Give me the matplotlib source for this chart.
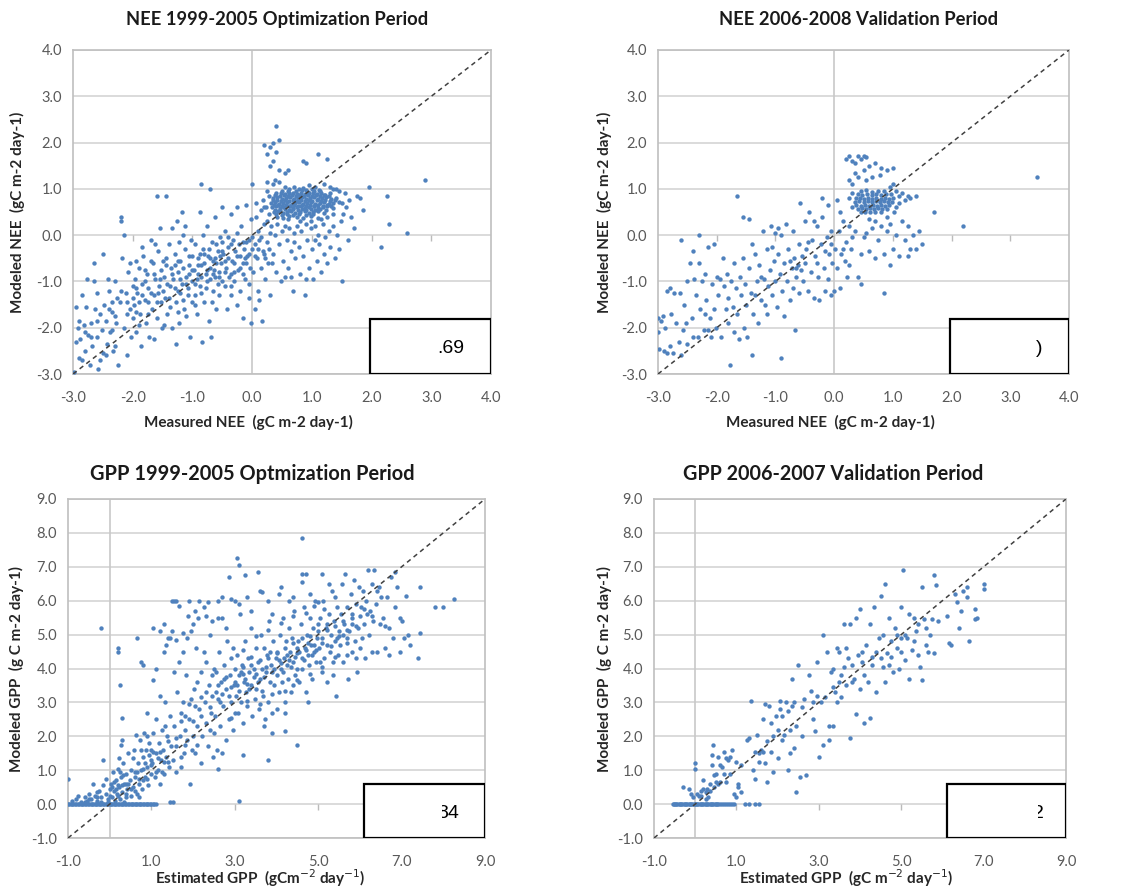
import numpy as np
import matplotlib
matplotlib.use('Agg')
import matplotlib.pyplot as plt
from matplotlib.patches import Rectangle
from matplotlib.lines import TICKDOWN

plt.rcParams['font.family'] = ['Lato', 'DejaVu Sans']

# NEE 1999-2005 (measured, modeled)
nee_opt_pts = [
    # x -3 .. -2.5
    (-2.98,-2.95),(-2.95,-2.3),(-2.92,-2.0),(-2.9,-1.85),(-2.88,-2.25),(-2.85,-2.7),(-2.82,-1.95),(-2.8,-2.5),
    (-2.78,-1.55),(-2.75,-2.15),(-2.72,-2.8),(-2.7,-1.9),(-2.68,-2.4),(-2.65,-0.6),(-2.63,-1.6),(-2.6,-2.2),
    (-2.58,-2.9),(-2.55,-1.7),(-2.52,-2.05),(-2.5,-0.4),(-2.5,-2.55),(-2.85,-1.3),(-2.95,-1.55),(-2.77,-0.95),
    (-2.6,-1.25),(-2.55,-2.7),(-2.9,-2.65),(-2.7,-2.2),(-2.65,-1.0),(-2.6,-1.85),(-2.8,-2.1),
    # x -2.5 .. -2
    (-2.48,-1.5),(-2.45,-1.85),(-2.43,-2.35),(-2.4,-1.2),(-2.38,-2.1),(-2.35,-1.65),(-2.33,-2.5),(-2.3,-1.0),
    (-2.28,-1.9),(-2.25,-2.8),(-2.22,-1.45),(-2.2,0.4),(-2.2,0.3),(-2.18,-0.5),(-2.15,-2.0),(-2.15,0.0),
    (-2.12,-1.25),(-2.1,-2.6),(-2.08,-0.8),(-2.05,-1.6),(-2.03,-2.2),(-2.0,-1.1),(-2.0,-1.8),(-2.42,-0.95),
    (-2.35,-2.05),(-2.27,-1.35),(-2.1,-1.7),(-2.3,-2.4),(-2.45,-2.6),(-2.05,-0.6),(-2.4,-1.6),(-2.3,-1.75),
    (-2.2,-1.2),(-2.1,-1.45),(-2.0,-1.35),(-2.35,-1.45),
    # x -2 .. -1.5
    (-1.98,-1.5),(-1.96,-0.95),(-1.94,-2.1),(-1.92,-1.25),(-1.9,-0.7),(-1.88,-1.7),(-1.86,-2.4),(-1.84,-1.05),
    (-1.82,-0.45),(-1.8,-1.4),(-1.78,-1.9),(-1.76,-0.85),(-1.74,-1.15),(-1.72,-2.2),(-1.7,-0.1),(-1.68,-1.6),
    (-1.66,-0.6),(-1.64,-1.3),(-1.62,-0.95),(-1.6,0.85),(-1.6,-1.8),(-1.58,-0.35),(-1.56,-1.1),(-1.55,0.15),
    (-1.53,-1.45),(-1.52,-0.75),(-1.51,-2.0),(-1.95,-1.65),(-1.85,-0.25),(-1.75,-1.45),(-1.65,-2.25),
    (-1.7,-0.55),(-1.8,-1.0),(-1.9,-1.95),(-1.57,-1.25),(-1.62,-0.2),(-1.95,-1.15),(-1.9,-1.45),(-1.85,-1.3),
    (-1.8,-0.75),(-1.75,-1.7),(-1.7,-1.25),(-1.65,-0.85),(-1.6,-1.45),(-1.55,-0.95),(-1.95,-0.55),
    # x -1.5 .. -1
    (-1.48,-0.9),(-1.46,-1.35),(-1.45,0.85),(-1.44,-0.5),(-1.42,-1.7),(-1.4,-0.2),(-1.38,-1.1),(-1.36,-0.7),
    (-1.34,-2.0),(-1.32,-0.95),(-1.3,-0.4),(-1.28,-1.45),(-1.26,0.3),(-1.25,-1.2),(-1.24,-0.8),(-1.22,-1.9),
    (-1.2,-0.55),(-1.18,-1.05),(-1.16,0.0),(-1.14,-1.6),(-1.12,-0.3),(-1.1,-0.9),(-1.08,-1.3),(-1.06,-0.65),
    (-1.04,-2.2),(-1.02,-0.1),(-1.0,-1.0),(-1.0,-0.45),(-1.38,-1.55),(-1.22,-0.15),(-1.15,-1.4),(-1.3,-0.65),
    (-1.42,-1.05),(-1.1,-1.75),(-1.05,-0.85),(-1.2,-0.95),(-1.35,0.15),(-1.18,0.5),(-1.28,-2.35),(-1.47,-1.95),
    (-1.08,-1.15),(-1.12,0.2),(-1.5,-1.2),(-1.45,-0.65),(-1.4,-1.35),(-1.35,-0.85),(-1.3,-1.15),(-1.25,-0.55),
    (-1.2,-1.25),(-1.15,-0.7),(-1.1,-1.05),(-1.05,-0.45),(-1.5,-0.55),(-1.25,-1.65),
    # x -1 .. -0.5
    (-0.98,-0.75),(-0.96,-1.3),(-0.95,-0.2),(-0.93,-0.95),(-0.92,-1.7),(-0.9,-0.5),(-0.88,0.5),(-0.87,-1.1),
    (-0.86,1.1),(-0.85,-0.65),(-0.84,-2.3),(-0.82,-0.3),(-0.8,-1.45),(-0.78,-0.85),(-0.76,0.2),(-0.75,-1.0),
    (-0.74,-0.45),(-0.72,-1.85),(-0.7,1.0),(-0.7,-0.7),(-0.69,-2.2),(-0.68,-0.15),(-0.66,-1.2),(-0.65,-0.55),
    (-0.63,-0.9),(-0.62,0.4),(-0.6,-1.6),(-0.58,-0.35),(-0.56,-0.8),(-0.55,-1.3),(-0.54,-0.05),(-0.52,-0.6),
    (-0.5,-1.0),(-0.5,0.6),(-0.9,-0.85),(-0.8,-0.6),(-0.72,-0.3),(-0.64,-0.75),(-0.57,-1.05),(-0.95,-1.5),
    (-0.83,0.0),(-0.67,-1.45),(-0.6,-0.2),(-0.78,-1.15),(-0.53,-0.45),(-0.88,-0.4),(-0.7,-0.95),(-0.62,-0.5),
    (-1.0,-0.75),(-0.95,-1.05),(-0.9,-0.65),(-0.85,-0.9),(-0.8,-0.4),(-0.75,-0.75),(-0.7,-0.5),(-0.65,-0.85),
    (-0.6,-0.6),(-0.55,-0.9),(-1.0,-1.45),(-0.85,-1.25),
    # x -0.5 .. 0
    (-0.48,-0.4),(-0.46,-1.1),(-0.45,0.1),(-0.44,-0.7),(-0.42,-1.6),(-0.4,-0.25),(-0.38,-0.9),(-0.36,0.45),
    (-0.35,-1.3),(-0.34,-0.55),(-0.32,-0.1),(-0.3,-1.0),(-0.28,-0.35),(-0.26,0.6),(-0.25,-1.5),(-0.24,-0.75),
    (-0.22,-0.2),(-0.2,-1.2),(-0.18,0.2),(-0.16,-0.6),(-0.15,-1.8),(-0.14,-0.3),(-0.12,-0.95),(-0.1,0.65),
    (-0.08,-0.45),(-0.06,-1.35),(-0.05,-0.1),(-0.04,-0.7),(-0.02,-1.9),(0.0,-0.3),(-0.3,-0.6),(-0.2,-0.45),
    (-0.1,-0.15),(-0.4,-0.05),(-0.15,-0.85),(-0.05,-1.05),(-0.35,-0.85),(-0.25,0.05),(-0.45,-0.55),
    (-0.12,-0.5),(0.0,1.1),(-0.02,0.35),(-0.5,-0.35),(-0.45,-0.8),(-0.4,-0.5),(-0.35,-0.2),(-0.3,-0.8),
    (-0.25,-0.45),(-0.2,-0.7),(-0.15,-0.15),(-0.1,-0.6),(-0.05,-0.4),(0.0,-0.05),(-0.5,-0.15),(-0.35,-1.1),
    # x 0 .. 0.3
    (0.02,-0.8),(0.04,-0.2),(0.05,-1.6),(0.06,0.4),(0.08,-0.5),(0.1,-1.2),(0.1,0.1),(0.12,-0.1),(0.14,-0.7),
    (0.15,0.55),(0.16,-1.85),(0.18,-0.35),(0.2,0.25),(0.22,-0.95),(0.24,0.6),(0.25,-0.15),(0.26,-0.6),
    (0.28,0.45),(0.3,-1.3),(0.3,0.05),(0.07,0.7),(0.18,0.75),(0.12,-1.4),(0.22,-0.5),(0.28,-0.3),
    (0.05,-0.45),(0.1,-0.3),(0.15,-0.05),(0.2,-0.4),(0.25,0.3),
    # spike above the cluster
    (0.2,1.95),(0.25,1.75),(0.3,1.9),(0.3,1.5),(0.35,2.0),(0.35,1.6),(0.4,2.35),(0.4,1.8),(0.45,2.05),
    (0.38,1.2),(0.45,1.4),(0.55,1.35),(0.6,1.4),(0.85,1.6),(0.9,1.55),(1.1,1.75),(1.25,1.65),(0.25,1.15),
    (0.35,1.1),
    # dense cluster
    (0.55,1.05),(0.7,1.05),(0.85,1.02),(0.95,1.08),(1.05,1.05),(0.62,1.0),(0.78,1.0),(1.0,1.0),(1.12,0.98),
    (0.9,0.98),(0.5,0.95),(0.6,0.96),(0.73,0.95),(0.83,0.97),(0.93,0.94),(1.03,0.96),(1.13,0.95),
    (0.4,0.92),(0.48,0.9),(0.55,0.88),(0.62,0.92),(0.68,0.9),(0.75,0.88),(0.82,0.92),(0.88,0.88),(0.95,0.9),
    (1.02,0.92),(1.08,0.88),(1.15,0.9),(1.22,0.87),(1.3,0.92),
    (0.38,0.86),(0.46,0.84),(0.53,0.86),(0.6,0.84),(0.67,0.86),(0.74,0.84),(0.8,0.86),(0.87,0.84),(0.93,0.86),
    (1.0,0.84),(1.07,0.86),(1.14,0.84),(1.2,0.86),(1.28,0.84),
    (0.35,0.8),(0.42,0.82),(0.5,0.78),(0.57,0.8),(0.64,0.82),(0.7,0.78),(0.77,0.8),(0.84,0.82),(0.9,0.78),
    (0.97,0.8),(1.04,0.82),(1.1,0.78),(1.17,0.8),(1.24,0.82),(1.32,0.78),(1.4,0.8),
    (0.35,0.75),(0.41,0.76),(0.48,0.74),(0.55,0.76),(0.62,0.74),(0.69,0.76),(0.75,0.74),(0.82,0.76),
    (0.88,0.74),(0.95,0.76),(1.01,0.74),(1.08,0.76),(1.15,0.74),(1.22,0.76),(1.3,0.74),(1.38,0.76),
    (0.32,0.7),(0.38,0.72),(0.45,0.68),(0.52,0.7),(0.59,0.72),(0.66,0.68),(0.72,0.7),(0.79,0.72),(0.86,0.68),
    (0.92,0.7),(0.99,0.72),(1.06,0.68),(1.13,0.7),(1.2,0.72),(1.28,0.68),(1.36,0.7),(1.45,0.72),
    (0.36,0.65),(0.43,0.66),(0.5,0.64),(0.57,0.66),(0.63,0.64),(0.7,0.66),(0.77,0.64),(0.84,0.66),(0.9,0.64),
    (0.97,0.66),(1.04,0.64),(1.11,0.66),(1.18,0.64),(1.25,0.66),(1.32,0.64),
    (0.33,0.6),(0.4,0.62),(0.47,0.58),(0.54,0.6),(0.61,0.62),(0.68,0.58),(0.75,0.6),(0.82,0.62),(0.89,0.58),
    (0.96,0.6),(1.03,0.62),(1.1,0.58),(1.18,0.6),(1.26,0.62),(1.35,0.58),
    (0.39,0.55),(0.47,0.54),(0.55,0.56),(0.62,0.54),(0.69,0.56),(0.76,0.54),(0.84,0.56),(0.91,0.54),
    (0.99,0.56),(1.06,0.54),(1.14,0.56),(1.23,0.54),
    (0.36,0.5),(0.44,0.52),(0.51,0.48),(0.58,0.5),(0.65,0.52),(0.72,0.48),(0.8,0.5),(0.88,0.52),(0.95,0.48),
    (1.02,0.5),(1.1,0.52),(1.2,0.48),
    (0.4,0.46),(0.5,0.44),(0.58,0.46),(0.68,0.44),(0.79,0.46),(0.9,0.44),(1.02,0.46),
    (0.42,0.4),(0.52,0.38),(0.62,0.42),(0.75,0.4),(0.85,0.38),(0.98,0.42),(1.1,0.38),
    # around the cluster and the right side
    (0.32,0.2),(0.35,-0.4),(0.38,0.0),(0.4,-0.8),(0.42,0.25),(0.45,-0.2),(0.48,-1.0),(0.5,0.1),(0.52,-0.55),
    (0.55,0.2),(0.58,-0.1),(0.6,-0.7),(0.62,0.15),(0.65,-0.35),(0.68,-1.2),(0.7,0.05),(0.72,-0.5),(0.75,0.2),
    (0.78,-0.25),(0.8,-0.85),(0.82,0.1),(0.85,-0.45),(0.88,-1.3),(0.9,0.25),(0.92,-0.1),(0.95,-0.7),
    (0.98,0.15),(1.0,-0.3),(1.02,-0.95),(1.05,0.2),(1.08,-0.55),(1.1,0.0),(1.12,-0.2),(1.15,-0.8),(1.18,0.25),
    (1.2,-0.4),(1.22,-0.05),(1.25,-0.6),(1.28,0.1),(1.3,-0.25),(1.35,0.2),(1.38,-0.5),(1.42,0.0),(1.45,-0.3),
    (1.48,0.3),(1.5,-1.0),(1.52,0.45),(1.55,0.9),(1.58,0.6),(1.6,-0.1),(1.62,0.75),(1.65,0.4),(1.7,0.15),
    (1.75,0.85),(1.8,0.8),(1.85,0.55),(1.95,1.05),(2.15,-0.25),(2.25,0.85),(2.3,0.25),(2.6,0.05),(2.9,1.2),
    (1.45,0.95),(1.4,1.0),(1.5,0.7),(1.35,1.0),(1.3,1.05),(0.25,0.95),(0.28,0.85),(0.2,0.6),(0.45,1.15),
    (1.2,1.1),(1.25,0.4),(1.35,0.45),(1.15,0.35),(0.55,-0.9),(0.9,-0.95),(0.65,-0.9),(0.33,-0.6),(0.98,0.3),
    (0.8,0.3),(0.6,0.35),(0.7,-0.15),(1.05,-0.1),
]

# NEE 2006-2008
nee_val_pts = [
    (-3.0,-1.8),(-3.0,-2.1),(-2.98,-2.45),(-2.95,-1.85),(-2.9,-2.5),(-2.88,-2.0),(-2.85,-1.2),(-2.85,-2.55),
    (-2.8,-2.4),(-2.8,-1.15),(-2.75,-2.55),(-2.72,-1.25),(-2.7,-1.9),(-2.65,-2.3),(-2.62,-1.25),(-2.6,-0.1),
    (-2.6,-2.6),(-2.58,-2.05),(-2.55,-1.5),(-2.52,-1.9),(-2.5,-2.35),(-2.5,-1.0),(-2.78,-1.7),(-2.92,-1.75),
    (-2.45,-0.6),(-2.42,-1.8),(-2.4,-2.2),(-2.38,-0.95),(-2.35,-1.3),(-2.32,-2.2),(-2.3,0.0),(-2.3,-0.6),
    (-2.28,-1.6),(-2.25,-1.0),(-2.22,-2.05),(-2.2,-0.85),(-2.18,-1.4),(-2.15,-0.25),(-2.12,-1.8),(-2.1,-2.2),
    (-2.08,-1.05),(-2.05,-0.2),(-2.05,-1.6),(-2.02,-2.0),(-2.0,-0.9),(-2.4,-0.35),(-2.2,-1.7),(-2.15,-2.05),
    (-1.98,-1.3),(-1.95,-0.95),(-1.92,-2.2),(-1.9,-0.5),(-1.88,-1.1),(-1.85,-1.6),(-1.82,-0.85),(-1.8,-1.35),
    (-1.78,-2.8),(-1.75,-1.0),(-1.72,-1.55),(-1.7,-0.6),(-1.68,-1.15),(-1.65,0.85),(-1.65,-1.7),(-1.62,-2.25),
    (-1.6,-0.9),(-1.58,-1.3),(-1.56,0.4),(-1.55,-0.5),(-1.53,-2.0),(-1.52,-1.05),(-1.5,-1.5),(-1.8,-1.9),
    (-1.7,-2.1),
    (-1.48,-2.2),(-1.45,-0.7),(-1.45,0.35),(-1.42,-1.25),(-1.4,-2.6),(-1.4,-0.2),(-1.38,-1.7),(-1.35,-0.4),
    (-1.32,-1.0),(-1.3,-1.9),(-1.28,-0.65),(-1.25,-1.4),(-1.22,0.1),(-1.2,-0.95),(-1.18,-1.5),(-1.15,-0.3),
    (-1.12,-1.1),(-1.1,-0.75),(-1.08,0.2),(-1.05,-1.3),(-1.02,-0.55),(-1.0,-1.0),(-1.0,0.05),(-1.35,-1.3),
    (-1.25,-0.9),(-1.15,-1.7),(-1.05,-0.25),
    (-0.98,-1.55),(-0.95,-0.4),(-0.93,-0.85),(-0.9,-2.65),(-0.9,0.0),(-0.88,-1.2),(-0.85,-0.6),(-0.82,0.25),
    (-0.8,-1.0),(-0.78,-0.3),(-0.75,-1.4),(-0.72,-0.7),(-0.7,0.1),(-0.68,-0.5),(-0.67,-2.05),(-0.65,-0.9),
    (-0.62,-0.65),(-0.6,-1.25),(-0.58,0.7),(-0.57,-0.75),(-0.55,-0.45),(-0.53,-1.0),(-0.5,-0.6),(-0.5,0.3),
    (-0.75,-0.55),(-0.65,-0.7),(-0.85,-1.75),(-0.95,0.15),(-0.6,-0.2),(-0.7,-1.15),
    (-0.48,-0.3),(-0.45,-1.2),(-0.42,0.5),(-0.4,-0.8),(-0.38,-0.1),(-0.35,-1.35),(-0.32,-0.45),(-0.3,0.2),
    (-0.28,-0.9),(-0.25,-1.4),(-0.22,-0.2),(-0.2,0.4),(-0.18,-0.7),(-0.15,-1.2),(-0.12,-0.05),(-0.1,0.65),
    (-0.08,-0.4),(-0.06,-1.3),(-0.05,0.1),(-0.03,-0.6),(0.0,-1.2),(-0.3,-0.6),(-0.15,-0.35),(-0.2,0.8),
    (-0.35,0.3),(-0.1,-0.95),(-0.45,-0.15),(-0.05,-0.2),
    (0.02,-0.3),(0.05,-0.7),(0.08,0.1),(0.1,-1.15),(0.12,-0.4),(0.15,0.3),(0.18,-0.55),(0.2,-0.15),
    (0.22,-0.9),(0.25,0.2),(0.28,-0.3),(0.3,-0.05),(0.15,-0.3),(0.25,-0.65),(0.1,0.5),(0.05,0.75),
    # spike above the cluster
    (0.2,1.65),(0.25,1.7),(0.3,1.6),(0.35,1.55),(0.4,1.7),(0.45,1.65),(0.5,1.72),(0.55,1.68),(0.6,1.5),
    (0.35,1.35),(0.5,1.4),(0.7,1.55),(0.8,1.45),(0.9,1.4),(0.25,1.2),(0.4,1.25),(0.3,1.1),(0.55,1.2),
    (0.65,1.25),(1.0,1.45),(0.78,1.3),
    # dense cluster
    (0.45,0.95),(0.55,0.97),(0.65,0.94),(0.75,0.96),(0.85,0.95),
    (0.4,0.88),(0.48,0.87),(0.56,0.89),(0.64,0.87),(0.72,0.89),(0.8,0.87),(0.88,0.89),(0.96,0.88),
    (0.37,0.8),(0.44,0.81),(0.51,0.79),(0.58,0.81),(0.65,0.79),(0.72,0.81),(0.79,0.79),(0.86,0.81),
    (0.93,0.79),(1.0,0.8),
    (0.36,0.72),(0.43,0.73),(0.5,0.71),(0.57,0.73),(0.64,0.71),(0.71,0.73),(0.78,0.71),(0.85,0.73),
    (0.92,0.71),(0.99,0.72),
    (0.38,0.65),(0.45,0.64),(0.52,0.66),(0.59,0.64),(0.66,0.66),(0.73,0.64),(0.8,0.66),(0.87,0.64),
    (0.94,0.65),
    (0.4,0.57),(0.47,0.58),(0.54,0.56),(0.61,0.58),(0.68,0.56),(0.75,0.58),(0.82,0.56),(0.9,0.57),
    (0.45,0.5),(0.53,0.49),(0.61,0.51),(0.7,0.49),(0.8,0.5),
    # around the cluster
    (0.3,0.9),(0.25,0.8),(0.3,0.6),(1.05,0.95),(1.1,0.85),(1.15,0.9),(1.2,0.75),(1.25,0.85),(1.3,0.8),
    (1.4,0.85),(1.05,0.6),(1.1,0.7),(0.95,1.05),(1.0,1.1),(1.02,0.5),(0.9,0.4),(1.7,0.5),(2.2,0.2),
    (3.45,1.25),(1.5,-0.2),(1.45,0.1),(1.35,0.0),(1.3,-0.3),(1.25,0.2),(1.2,-0.1),(1.15,0.3),(1.1,-0.45),
    (1.05,0.0),(1.0,-0.3),(0.95,-0.65),(0.9,0.1),(0.85,-0.4),(0.8,0.2),(0.75,-0.1),(0.7,-0.5),(0.65,0.15),
    (0.6,-0.35),(0.55,0.05),(0.5,-0.05),(0.45,-0.4),(0.4,-0.9),(0.35,0.1),(0.85,-1.25),(0.45,-1.05),
    (0.7,0.3),(0.6,0.35),(0.95,0.25),(1.25,-0.45),(1.4,-0.3),
]

# GPP 1999-2005 (estimated, modeled); points on the zero line first
gpp_opt_zero_x = [-1.0,-0.97,-0.94,-0.9,-0.87,-0.84,-0.8,-0.77,-0.73,-0.7,-0.66,-0.63,-0.6,-0.56,-0.53,
                  -0.5,-0.46,-0.43,-0.4,-0.36,-0.33,-0.3,-0.26,-0.23,-0.2,-0.16,-0.13,-0.1,-0.06,-0.03,
                  0.0,0.03,0.06,0.1,0.13,0.16,0.2,0.23,0.26,0.3,0.33,0.36,0.4,0.43,0.46,0.5,0.53,0.56,
                  0.6,0.63,0.66,0.7,0.73,0.76,0.8,0.83,0.86,0.9,0.93,0.96,1.0,1.03,1.06,1.1]
gpp_opt_pts = [
    (-0.9,0.1),(-0.8,0.15),(-0.7,0.05),(-0.6,0.2),(-0.55,0.1),(-0.5,0.3),(-0.45,0.15),(-0.4,0.6),
    (-0.35,0.25),(-0.3,0.1),(-0.25,0.4),(-0.2,0.2),(-0.15,0.55),(-0.1,0.3),(-0.05,0.15),(0.0,0.45),
    (-0.3,0.35),(-0.2,0.05),(-0.1,0.75),(-0.6,0.05),(-0.75,0.25),(-0.05,0.05),(0.0,0.25),(-0.3,0.2),
    (-0.5,0.15),
    (0.02,0.6),(0.05,0.2),(0.08,0.95),(0.1,0.4),(0.12,0.1),(0.15,0.7),(0.18,0.3),(0.2,1.05),(0.22,0.5),
    (0.25,0.15),(0.28,0.8),(0.3,0.35),(0.32,1.2),(0.35,0.6),(0.38,0.2),(0.4,0.9),(0.42,0.45),(0.45,1.5),
    (0.48,0.7),(0.5,0.25),(0.1,0.65),(0.2,0.25),(0.3,0.55),(0.4,0.3),(0.15,0.45),(0.25,0.95),(0.35,0.05),
    (0.45,0.6),(0.05,0.5),(0.33,0.85),(0.28,1.75),(0.3,1.9),(0.22,1.35),(0.4,0.6),(0.2,0.55),(0.5,0.45),
    (0.52,1.0),(0.55,0.5),(0.58,1.6),(0.6,0.8),(0.62,2.05),(0.65,0.3),(0.68,1.2),(0.7,0.6),(0.72,1.9),
    (0.75,1.0),(0.78,0.45),(0.8,1.4),(0.82,2.1),(0.85,0.8),(0.88,1.6),(0.9,1.1),(0.92,0.55),(0.95,1.8),
    (0.98,1.3),(1.0,0.9),(0.55,1.35),(0.65,0.95),(0.75,1.6),(0.85,1.2),(0.95,1.45),(0.7,0.2),(0.6,0.4),
    (0.9,2.0),(1.0,1.6),(0.8,0.7),(0.6,0.95),(0.8,1.05),(0.7,0.75),(0.9,0.75),(1.0,1.15),
    (1.02,1.2),(1.05,2.1),(1.08,0.8),(1.1,1.5),(1.12,2.5),(1.15,1.0),(1.18,1.8),(1.2,0.6),(1.22,1.3),
    (1.25,2.2),(1.28,1.6),(1.3,0.9),(1.32,3.0),(1.35,1.4),(1.38,2.0),(1.4,4.9),(1.42,1.1),(1.45,2.6),
    (1.48,1.7),(1.5,5.1),(1.1,4.0),(1.2,3.2),(1.3,5.3),(1.35,4.7),(1.45,0.05),(1.15,1.35),(1.25,0.95),
    (1.4,1.25),(1.05,1.55),(1.33,2.3),(1.4,1.85),(1.2,1.55),(1.3,1.25),(1.1,0.95),
    (1.52,1.3),(1.55,2.3),(1.58,6.0),(1.6,1.7),(1.62,3.3),(1.65,5.85),(1.68,2.0),(1.7,1.1),(1.72,2.7),
    (1.75,4.5),(1.78,1.5),(1.8,2.2),(1.82,3.8),(1.85,1.9),(1.88,5.55),(1.9,2.5),(1.92,0.6),(1.95,3.1),
    (1.98,1.6),(2.0,2.0),(1.55,3.9),(1.65,4.2),(1.75,3.0),(1.85,4.9),(1.95,5.1),(1.6,0.95),(1.7,2.45),
    (1.8,1.75),(1.9,2.95),(1.52,0.05),(1.5,6.0),(1.8,2.6),(1.6,1.95),(1.7,1.4),(2.0,2.45),
    (2.02,3.4),(2.05,1.5),(2.08,4.6),(2.1,2.3),(2.12,5.5),(2.15,2.8),(2.18,1.2),(2.2,3.9),(2.22,2.0),
    (2.25,5.8),(2.28,3.0),(2.3,2.4),(2.32,4.2),(2.35,1.7),(2.38,3.5),(2.4,5.0),(2.42,2.7),(2.45,3.2),
    (2.48,1.4),(2.5,4.0),(2.1,3.6),(2.2,2.6),(2.3,3.3),(2.4,2.2),(2.15,6.0),(2.35,5.95),(2.45,5.4),
    (2.05,2.9),(2.25,4.5),(2.45,3.8),(2.2,3.15),(2.4,2.85),(2.1,1.75),(2.5,2.1),
    (2.52,2.6),(2.55,3.9),(2.58,1.6),(2.6,3.1),(2.62,4.5),(2.65,2.3),(2.68,3.6),(2.7,5.5),(2.72,2.9),
    (2.75,4.1),(2.78,1.9),(2.8,3.4),(2.82,4.8),(2.85,2.5),(2.88,3.8),(2.9,3.0),(2.92,4.3),(2.95,2.2),
    (2.98,3.5),(3.0,4.0),(2.6,6.0),(2.7,6.1),(2.8,5.2),(2.9,6.05),(2.55,3.3),(2.65,3.0),(2.75,3.7),
    (2.85,3.2),(2.95,4.6),(2.6,1.05),(2.7,1.5),(2.6,3.5),(2.7,3.25),(2.8,3.75),(2.9,3.45),(2.9,2.55),
    (3.02,3.2),(3.05,4.4),(3.08,2.7),(3.1,3.8),(3.12,5.6),(3.15,3.0),(3.18,4.1),(3.2,2.4),(3.22,3.6),
    (3.25,4.8),(3.28,3.3),(3.3,2.9),(3.32,4.3),(3.35,3.9),(3.38,5.2),(3.4,3.5),(3.42,2.6),(3.45,4.0),
    (3.48,3.1),(3.5,4.6),(3.05,3.5),(3.15,3.9),(3.25,3.7),(3.35,3.4),(3.45,3.75),(3.1,5.9),(3.3,6.1),
    (3.4,5.7),(3.2,4.05),(3.4,4.35),(3.0,6.0),(3.0,3.6),(3.1,3.35),(3.2,3.85),(3.3,3.55),(3.4,4.1),
    (3.0,2.7),(3.3,3.05),(3.2,4.55),
    (3.52,3.4),(3.55,4.2),(3.58,2.8),(3.6,3.7),(3.62,5.0),(3.65,4.0),(3.68,3.2),(3.7,4.6),(3.72,2.5),
    (3.75,3.9),(3.78,4.4),(3.8,3.0),(3.82,5.4),(3.85,3.6),(3.88,4.1),(3.9,2.7),(3.92,4.8),(3.95,3.5),
    (3.98,4.3),(4.0,3.8),(3.55,3.6),(3.65,3.35),(3.75,4.05),(3.85,4.5),(3.95,4.0),(3.6,6.3),(3.8,6.0),
    (3.9,5.6),(3.7,2.3),(4.0,2.8),(3.5,3.85),(3.6,4.25),(3.7,3.75),(3.8,4.3),(3.9,3.9),(3.6,2.95),
    (3.9,3.25),(3.5,4.95),(3.8,5.15),
    (4.02,4.5),(4.05,3.3),(4.08,5.0),(4.1,4.0),(4.12,3.6),(4.15,5.5),(4.18,4.3),(4.2,3.0),(4.22,4.8),
    (4.25,4.1),(4.28,3.7),(4.3,5.2),(4.32,4.5),(4.35,3.3),(4.38,4.9),(4.4,4.2),(4.42,5.7),(4.45,3.8),
    (4.48,4.6),(4.5,4.0),(4.05,4.25),(4.15,3.9),(4.25,4.4),(4.35,4.05),(4.45,4.35),(4.1,6.4),(4.3,6.0),
    (4.4,6.1),(4.2,2.7),(4.4,3.5),(4.05,6.2),(4.0,4.45),(4.1,4.15),(4.2,4.6),(4.3,4.25),(4.4,4.75),
    (4.5,4.45),(4.2,3.35),(4.5,3.65),(4.1,5.35),(4.4,5.55),
    (4.52,4.8),(4.55,3.6),(4.58,5.3),(4.6,4.3),(4.62,4.0),(4.65,5.8),(4.68,4.6),(4.7,3.3),(4.72,5.0),
    (4.75,4.4),(4.78,4.1),(4.8,5.5),(4.82,4.7),(4.85,3.7),(4.88,5.2),(4.9,4.5),(4.92,6.0),(4.95,4.2),
    (4.98,4.9),(5.0,5.3),(4.55,4.5),(4.65,4.25),(4.75,4.75),(4.85,4.4),(4.95,4.55),(4.6,6.8),(4.7,6.8),
    (4.8,6.2),(4.9,5.85),(4.75,3.0),(4.6,6.55),(4.6,4.9),(4.7,4.55),(4.8,4.95),(4.9,4.7),(4.8,3.85),
    (4.7,5.65),
    (5.02,4.6),(5.05,5.5),(5.08,3.9),(5.1,4.9),(5.12,6.0),(5.15,4.3),(5.18,5.2),(5.2,4.7),(5.22,3.6),
    (5.25,5.6),(5.28,4.5),(5.3,5.0),(5.32,6.3),(5.35,4.2),(5.38,5.4),(5.4,4.8),(5.42,3.2),(5.45,5.8),
    (5.48,4.4),(5.5,5.1),(5.1,6.8),(5.25,6.5),(5.4,6.1),(5.05,4.2),(5.2,5.3),(5.35,3.8),(5.45,4.9),
    (5.15,5.75),(5.0,5.1),(5.1,4.75),(5.2,5.15),(5.3,4.65),(5.4,5.25),(5.5,4.95),(5.1,4.05),(5.4,4.35),
    (5.0,5.95),
    (5.52,4.7),(5.55,5.6),(5.58,6.5),(5.6,4.2),(5.62,5.3),(5.65,6.8),(5.68,4.9),(5.7,5.8),(5.72,3.7),
    (5.75,5.1),(5.78,6.2),(5.8,4.5),(5.82,5.5),(5.85,6.6),(5.88,4.8),(5.9,5.9),(5.92,3.9),(5.95,5.2),
    (5.98,6.4),(6.0,4.6),(5.6,5.0),(5.7,4.4),(5.8,5.3),(5.9,4.3),(5.6,5.4),(5.7,5.15),(5.8,5.6),
    (5.9,5.25),(6.0,5.55),(5.7,4.75),
    (6.02,5.8),(6.05,4.9),(6.08,6.3),(6.1,5.3),(6.12,4.3),(6.15,6.0),(6.18,5.6),(6.2,6.9),(6.22,5.0),
    (6.25,5.7),(6.28,4.5),(6.3,6.5),(6.32,5.4),(6.35,6.9),(6.38,5.9),(6.4,4.5),(6.45,6.4),(6.48,5.3),
    (6.5,6.1),(6.1,5.75),(6.3,5.55),(6.4,6.3),
    (6.55,5.5),(6.6,4.6),(6.65,6.1),(6.7,5.2),(6.75,6.7),(6.8,4.9),(6.85,5.8),(6.9,6.4),(7.0,5.4),
    (6.6,5.25),(6.7,4.4),(6.85,6.85),(7.05,4.9),
    # upper wing and outliers
    (1.05,5.2),(1.2,5.1),(1.45,4.9),(1.55,6.0),(1.9,6.0),(2.05,5.7),(2.3,5.55),(1.75,5.05),(2.6,5.5),
    (1.3,4.5),(1.6,4.85),(2.0,5.3),
    (-1.0,0.75),(-0.2,5.2),(0.2,4.6),(0.2,4.5),(0.25,3.5),(0.3,2.55),(0.65,4.9),(0.75,4.2),(0.8,4.1),
    (1.05,3.65),(0.9,2.7),(-0.15,1.3),(3.1,0.1),(4.6,7.85),(3.05,7.25),(3.1,7.05),(8.25,6.05),(8.0,5.8),
    (7.8,5.8),(7.4,4.3),(7.45,5.05),(7.45,6.4),(7.1,6.15),(6.95,5.5),(6.95,4.5),(7.2,4.7),(7.15,5.0),
    (2.85,6.7),(3.25,6.75),(3.55,6.85),(3.65,6.25),(3.8,1.3),(3.2,1.45),(3.9,2.1),(4.2,2.15),(4.5,1.75),
]

# GPP 2006-2007
gpp_val_zero_x = [-0.55,-0.52,-0.49,-0.46,-0.43,-0.4,-0.37,-0.34,-0.31,-0.28,-0.25,-0.22,-0.19,-0.16,
                  -0.13,-0.1,-0.07,-0.04,-0.01,0.02,0.05,0.08,0.11,0.14,0.17,0.2,0.23,0.26,0.29,0.32,
                  0.35,0.38,0.41,0.44,0.47,0.5,0.53,0.56,0.6,0.65,0.7,0.75,0.8,0.85,0.9,0.95,
                  1.2,1.3,1.45,1.55]
gpp_val_pts = [
    (-0.3,0.5),(-0.1,0.3),(-0.05,0.2),(0.0,1.2),(0.0,1.05),(0.05,0.3),(0.1,0.25),(0.15,0.4),(0.2,0.7),
    (0.25,0.35),(0.28,0.45),(0.3,0.2),(0.35,0.4),(0.4,1.45),(0.4,1.15),(0.42,1.75),(0.45,0.5),(0.5,0.65),
    (0.55,1.4),(0.55,0.6),(0.6,0.65),(0.6,1.15),(0.65,1.1),(0.7,1.55),(0.75,1.35),(0.8,1.3),(0.85,1.4),
    (0.85,0.9),(0.9,1.6),(0.95,0.3),(1.0,0.2),(1.0,1.25),(1.05,0.5),(1.05,0.6),(1.1,0.35),(1.1,1.15),
    (0.15,0.25),(0.25,0.15),(0.5,0.9),(0.7,0.9),(0.75,0.65),(0.2,0.45),(0.35,0.6),(-0.15,0.45),(0.45,0.85),
    (1.25,1.9),(1.3,1.95),(1.35,3.05),(1.4,1.0),(1.45,0.75),(1.5,2.05),(1.55,1.5),(1.6,1.6),(1.65,1.55),
    (1.65,2.5),(1.7,2.95),(1.7,1.2),(1.75,0.65),(1.8,2.9),(1.85,2.4),(1.9,0.95),(1.9,2.0),(1.95,2.6),
    (2.0,2.2),(2.0,1.35),(2.05,2.8),(2.1,1.9),(2.15,2.05),(2.2,3.0),(2.25,1.0),(2.3,2.2),(2.35,2.9),
    (2.4,1.65),(2.45,0.35),(2.45,2.3),(2.5,4.1),(2.55,0.8),(2.6,2.0),(2.65,3.1),(2.7,0.85),(2.75,3.8),
    (2.8,3.35),(2.85,2.5),(2.9,2.15),(2.95,3.2),(2.95,4.2),(1.55,1.25),(1.75,1.85),(2.1,2.6),(2.3,1.5),
    (2.4,3.0),(2.6,2.85),(2.85,3.0),(1.45,1.55),(2.05,3.05),(2.25,2.75),(1.85,1.55),(2.35,3.7),
    (3.0,1.4),(3.05,3.0),(3.1,5.0),(3.1,1.75),(3.15,3.15),(3.2,4.5),(3.25,2.3),(3.25,1.9),(3.3,3.9),
    (3.35,4.0),(3.35,2.3),(3.4,3.3),(3.45,4.6),(3.5,3.6),(3.5,4.5),(3.55,3.8),(3.6,5.3),(3.65,3.5),
    (3.7,4.3),(3.75,5.3),(3.75,1.95),(3.8,4.1),(3.85,3.7),(3.9,5.5),(3.9,2.65),(3.95,4.4),(4.0,3.4),
    (4.0,5.75),(4.05,4.2),(4.1,2.4),(4.1,3.8),(4.15,4.7),(4.2,3.6),(4.25,5.3),(4.25,2.55),(4.3,4.1),
    (4.35,5.8),(4.4,3.3),(4.4,4.5),(4.45,4.9),(4.5,6.15),(4.5,4.3),(4.55,5.0),(4.6,6.5),(4.6,3.6),
    (4.65,4.45),(4.7,5.5),(4.7,4.1),(4.75,4.8),(4.8,3.9),(4.85,5.2),(4.9,4.6),(4.95,4.0),(5.0,5.8),
    (3.35,3.45),(3.55,3.15),(3.65,4.6),(3.8,3.6),(4.05,4.5),(4.3,4.35),(4.55,4.05),(4.75,4.35),(4.9,5.0),
    (3.45,3.0),(3.6,4.05),
    (5.0,4.5),(5.05,6.9),(5.1,5.0),(5.1,4.25),(5.15,4.9),(5.2,3.7),(5.25,4.55),(5.3,5.5),(5.35,5.1),
    (5.4,4.4),(5.4,5.3),(5.45,4.05),(5.5,6.4),(5.5,3.65),(5.55,5.45),(5.6,5.2),(5.65,4.5),(5.7,5.0),
    (5.75,5.45),(5.8,6.75),(5.8,4.45),(5.85,6.45),(5.9,5.4),(6.1,5.55),(6.15,4.75),(6.2,4.7),(6.3,6.2),
    (6.35,5.95),(6.4,5.2),(6.45,5.7),(6.5,6.3),(6.6,6.1),(6.6,6.4),(6.65,4.8),(6.8,5.75),(6.8,5.45),
    (6.85,5.5),(7.0,6.5),(7.0,6.35),(5.2,5.6),(5.6,4.7),(5.0,4.9),(5.3,4.8),
]

panel_titles = ['NEE 1999-2005 Optimization Period', 'NEE 2006-2008 Validation Period',
                'GPP 1999-2005 Optmization Period', 'GPP 2006-2007 Validation Period']
x_labels = ['Measured NEE  (gC m-2 day-1)', 'Measured NEE  (gC m-2 day-1)',
            'Estimated GPP  (gCm$^{-2}$ day$^{-1}$)', 'Estimated GPP  (gC m$^{-2}$ day$^{-1}$)']
y_labels = ['Modeled NEE  (gC m-2 day-1)', 'Modeled NEE  (gC m-2 day-1)',
            'Modeled GPP  (g C m-2 day-1)', 'Modeled GPP  (g C m-2 day-1)']
box_texts = ['.69', ')', '84', '2']

nee_ticks = np.arange(-3, 4.01, 1.0)
gpp_xticks = np.arange(-1, 9.01, 2.0)
gpp_yticks = np.arange(-1, 9.01, 1.0)

dot_col = '#4F81BD'
grid_col = '#D4D4D4'
tick_col = '#595959'

fig = plt.figure(figsize=(11.28, 8.9), dpi=100)

# axes rectangles in figure pixels (left, top, right, bottom)
W, H = 1128, 890
rects = [(73, 50, 491, 374), (658, 50, 1069, 374), (68, 499, 485, 838), (654, 499, 1066, 838)]
title_x = [0.488, 0.487, 0.441, 0.434]
title_size = [13.2, 13.2, 14.4, 14.2]
title_pad = [18, 18, 14, 14]
xlab_x = [0.419, 0.419, 0.46, 0.466]
xlab_y = [-0.127, -0.127, -0.087, -0.087]
ylab_x = [-0.115, -0.112, -0.1055, -0.102]
xtick_pad = [12, 12, 12.5, 12.5]
text_x = [0.904, 0.927, 0.911, 0.934]
# white masks that hide the left part of the cut box texts
mask_x = [None, None, (0.875, 0.896), (0.915, 0.933)]


def panel(k, pts, zero_x, lim, xticks, yticks):
    l, t, r, b = rects[k]
    ax = fig.add_axes([l / W, 1 - b / H, (r - l) / W, (b - t) / H])
    pts = np.array(pts)
    if zero_x is not None:
        ax.scatter(zero_x, np.zeros(len(zero_x)), s=10, color=dot_col, linewidths=0, zorder=3)
    ax.scatter(pts[:, 0], pts[:, 1], s=10, color=dot_col, linewidths=0, zorder=3)
    # 1:1 line
    ax.plot(lim, lim, ls=(0, (3, 2.5)), color='#404040', lw=1.1, zorder=4)
    ax.set_xlim(lim)
    ax.set_ylim(lim)
    ax.set_xticks(xticks)
    ax.set_yticks(yticks)
    ax.set_xticklabels(['%.1f' % v for v in xticks])
    ax.set_yticklabels(['%.1f' % v for v in yticks])
    ax.tick_params(length=0, labelsize=10.5, colors=tick_col, pad=8)
    ax.tick_params(axis='x', pad=xtick_pad[k])
    ax.yaxis.grid(True, color=grid_col, lw=1.2)
    ax.set_axisbelow(True)
    ax.axvline(0, color='#C8C8C8', lw=1.2, zorder=1)
    # small tick marks of the crossing axis at y=0
    ax.plot(xticks[1:-1], np.zeros(len(xticks) - 2), ls='none', marker=TICKDOWN,
            markersize=4, color='#BBBBBB', zorder=2)
    for s in ax.spines.values():
        s.set_color('#BFBFBF')
        s.set_linewidth(1.2)
    ax.set_title(panel_titles[k], x=title_x[k], fontsize=title_size[k], fontweight='bold',
                 color='#1A1A1A', pad=title_pad[k])
    ax.set_xlabel(x_labels[k], fontsize=11, fontweight='bold', color='#262626')
    ax.xaxis.set_label_coords(xlab_x[k], xlab_y[k])
    ax.set_ylabel(y_labels[k], fontsize=11, fontweight='bold', color='#262626')
    ax.yaxis.set_label_coords(ylab_x[k], 0.5)
    # white box in the lower right corner
    bh = (b - 319) / (b - t) if k < 2 else (b - 784) / (b - t)
    ax.add_patch(Rectangle((0.71, 0.0), 0.29, bh, transform=ax.transAxes, facecolor='white',
                           edgecolor='black', lw=1.6, zorder=5))
    ax.text(text_x[k], bh * 0.46, box_texts[k], transform=ax.transAxes, fontsize=14,
            family=['Liberation Sans', 'DejaVu Sans'], ha='center', va='center', zorder=6)
    if mask_x[k] is not None:
        x0, x1 = mask_x[k]
        ax.add_patch(Rectangle((x0, bh * 0.15), x1 - x0, bh * 0.7, transform=ax.transAxes,
                               facecolor='white', edgecolor='none', zorder=7))
    return ax


panel(0, nee_opt_pts, None, [-3, 4], nee_ticks, nee_ticks)
panel(1, nee_val_pts, None, [-3, 4], nee_ticks, nee_ticks)
panel(2, gpp_opt_pts, gpp_opt_zero_x, [-1, 9], gpp_xticks, gpp_yticks)
panel(3, gpp_val_pts, gpp_val_zero_x, [-1, 9], gpp_xticks, gpp_yticks)

plt.savefig('out.png', dpi=100)
